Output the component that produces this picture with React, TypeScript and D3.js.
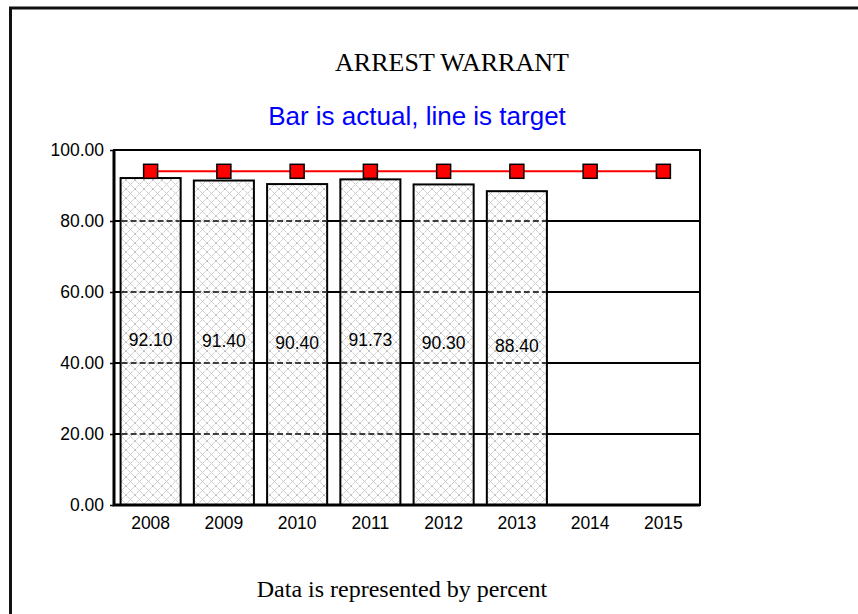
import React, { useEffect, useRef } from 'react';
import * as d3 from 'd3';

const years = ['2008', '2009', '2010', '2011', '2012', '2013', '2014', '2015'];
const actual = [92.1, 91.4, 90.4, 91.73, 90.3, 88.4, null, null];
const target = [94, 94, 94, 94, 94, 94, 94, 94];
const yTicks = [0, 20, 40, 60, 80, 100];

const App = () => {
  const svgRef = useRef(null);

  useEffect(() => {
    const svg = d3.select(svgRef.current);
    svg.selectAll('*').remove();

    const width = 858;
    const height = 614;
    const left = 114;
    const right = 700;
    const top = 150;
    const bottom = 505;

    // page frame (only top/left edge visible)
    svg
      .append('rect')
      .attr('x', 10.5)
      .attr('y', 8)
      .attr('width', 1000)
      .attr('height', 800)
      .attr('fill', '#fff')
      .attr('stroke', '#111')
      .attr('stroke-width', 3);

    const defs = svg.append('defs');
    const pat = defs
      .append('pattern')
      .attr('id', 'hatch')
      .attr('patternUnits', 'userSpaceOnUse')
      .attr('width', 9)
      .attr('height', 9);
    pat.append('rect').attr('width', 9).attr('height', 9).attr('fill', '#fff');
    pat
      .append('path')
      .attr('d', 'M0,0L9,9M9,0L0,9')
      .attr('stroke', '#c2c2c2')
      .attr('stroke-width', 1)
      .attr('stroke-dasharray', '1.6,0.6');

    const x = d3.scaleBand().domain(years).range([left, right]).paddingInner(0.18).paddingOuter(0.09);
    const y = d3.scaleLinear().domain([0, 100]).range([bottom, top]);

    // titles
    svg
      .append('text')
      .attr('x', 452)
      .attr('y', 71)
      .attr('text-anchor', 'middle')
      .style('font-family', '"Liberation Serif", "Times New Roman", serif')
      .style('font-size', '26px')
      .text('ARREST WARRANT');

    svg
      .append('text')
      .attr('x', 417)
      .attr('y', 125)
      .attr('text-anchor', 'middle')
      .attr('fill', '#0000ff')
      .style('font-family', '"Liberation Sans", Arial, sans-serif')
      .style('font-size', '26px')
      .text('Bar is actual, line is target');

    svg
      .append('text')
      .attr('x', 402)
      .attr('y', 597)
      .attr('text-anchor', 'middle')
      .style('font-family', '"Liberation Serif", "Times New Roman", serif')
      .style('font-size', '24px')
      .text('Data is represented by percent');

    // solid grid lines
    svg
      .selectAll('.grid')
      .data(yTicks.filter((t) => t > 0 && t < 100))
      .enter()
      .append('line')
      .attr('x1', left)
      .attr('x2', right)
      .attr('y1', (d) => y(d))
      .attr('y2', (d) => y(d))
      .attr('stroke', '#000')
      .attr('stroke-width', 2);

    const barData = years
      .map((yr, i) => ({ yr, v: actual[i] }))
      .filter((d) => d.v !== null);

    // bars
    svg
      .selectAll('.bar')
      .data(barData)
      .enter()
      .append('rect')
      .attr('x', (d) => x(d.yr))
      .attr('y', (d) => y(d.v))
      .attr('width', x.bandwidth())
      .attr('height', (d) => bottom - y(d.v))
      .attr('fill', 'url(#hatch)')
      .attr('stroke', '#000')
      .attr('stroke-width', 2);

    // dashed grid over bars
    barData.forEach((d) => {
      yTicks
        .filter((t) => t > 0 && t < d.v)
        .forEach((t) => {
          svg
            .append('line')
            .attr('x1', x(d.yr) + 1)
            .attr('x2', x(d.yr) + x.bandwidth() - 1)
            .attr('y1', y(t))
            .attr('y2', y(t))
            .attr('stroke', '#000')
            .attr('stroke-width', 1.6)
            .attr('stroke-dasharray', '6,3');
        });
    });

    // value labels
    svg
      .selectAll('.val')
      .data(barData)
      .enter()
      .append('text')
      .attr('x', (d) => x(d.yr) + x.bandwidth() / 2)
      .attr('y', (d) => (y(d.v) + y(0)) / 2 + 4)
      .attr('text-anchor', 'middle')
      .style('font-family', '"Liberation Sans", Arial, sans-serif')
      .style('font-size', '17.5px')
      .text((d) => d.v.toFixed(2));

    // plot frame
    svg
      .append('rect')
      .attr('x', left)
      .attr('y', top)
      .attr('width', right - left)
      .attr('height', bottom - top)
      .attr('fill', 'none')
      .attr('stroke', '#000')
      .attr('stroke-width', 2);

    svg
      .append('path')
      .attr('d', `M${left},${top}V${bottom}H${right}`)
      .attr('fill', 'none')
      .attr('stroke', '#000')
      .attr('stroke-width', 3);

    // y axis
    const yAxis = svg
      .append('g')
      .attr('transform', `translate(${left},0)`)
      .call(d3.axisLeft(y).tickValues(yTicks).tickSize(4).tickPadding(6).tickFormat(d3.format('.2f')));
    yAxis.select('.domain').remove();
    yAxis.selectAll('.tick line').attr('stroke', '#000').attr('stroke-width', 1.5);
    yAxis
      .selectAll('.tick text')
      .attr('fill', '#000')
      .style('font-family', '"Liberation Sans", Arial, sans-serif')
      .style('font-size', '17.5px');

    // x axis
    const xAxis = svg
      .append('g')
      .attr('transform', `translate(0,${bottom})`)
      .call(d3.axisBottom(x).tickSize(0).tickPadding(12));
    xAxis.select('.domain').remove();
    xAxis
      .selectAll('.tick text')
      .attr('fill', '#000')
      .style('font-family', '"Liberation Sans", Arial, sans-serif')
      .style('font-size', '17.5px');

    // target line
    const line = d3
      .line()
      .x((d, i) => x(years[i]) + x.bandwidth() / 2)
      .y((d) => y(d));
    svg
      .append('path')
      .datum(target)
      .attr('d', line)
      .attr('fill', 'none')
      .attr('stroke', '#ff0000')
      .attr('stroke-width', 2);

    svg
      .selectAll('.mark')
      .data(target)
      .enter()
      .append('rect')
      .attr('x', (d, i) => x(years[i]) + x.bandwidth() / 2 - 7)
      .attr('y', (d) => y(d) - 7)
      .attr('width', 14)
      .attr('height', 14)
      .attr('fill', '#ff0000')
      .attr('stroke', '#000')
      .attr('stroke-width', 1.5);

    svg.attr('width', width).attr('height', height);
  }, []);

  return <svg ref={svgRef} style={{ position: 'absolute', left: 0, top: 0, background: '#fff' }} />;
};

export default App;
